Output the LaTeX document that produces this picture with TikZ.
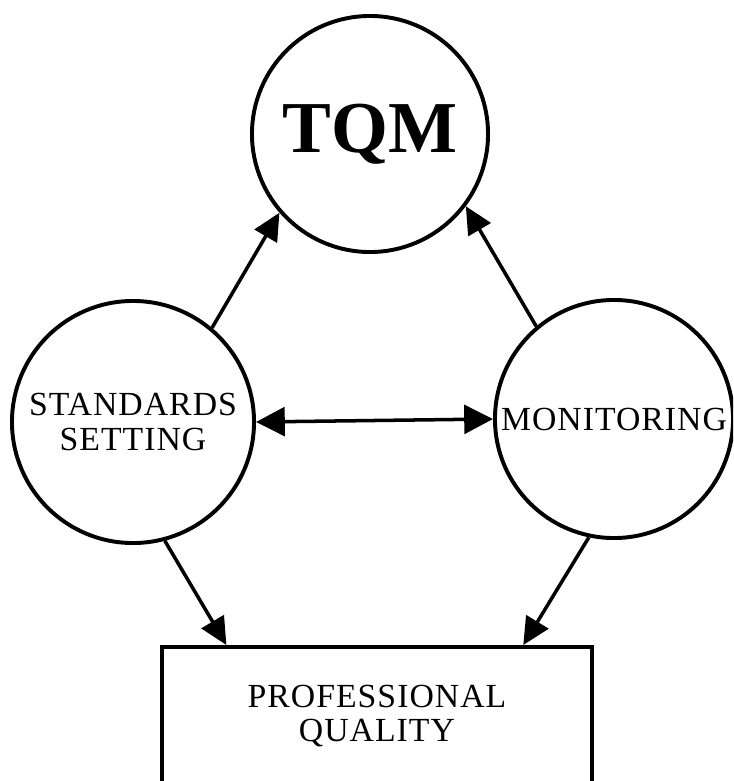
\documentclass[tikz,border=0pt]{standalone}
\usepackage{fontspec}
\setmainfont{Liberation Serif}
\newfontfamily\labelfont[LetterSpace=3]{Liberation Serif}
\usetikzlibrary{arrows.meta, calc}
\tikzset{
  every picture/.style={line width=2.8pt},
  blob/.style={draw, circle, inner sep=0pt, minimum size=#1, align=center,
    font=\labelfont\fontsize{24}{25}\selectfont},
  blob/.default=6cm,
  outbox/.style={draw, rectangle, align=center, minimum width=10.75cm, minimum height=3.45cm,
    font=\labelfont\fontsize{24}{24.2}\selectfont},
  arrow/.style={-{Triangle[length=0.68cm, width=0.64cm]}, line width=2.5pt},
  twoway/.style={{Triangle[length=0.72cm, width=0.72cm]}-{Triangle[length=0.72cm, width=0.72cm]}, line width=2.5pt},
}

\begin{document}
\begin{tikzpicture}[x=0.025cm, y=-0.025cm]
  \clip (0,0) rectangle (733,781);
  % top: the goal
  \node[blob=5.9cm, font=\bfseries\fontsize{52}{56}\selectfont] (tqm) at (370,134) {TQM};
  % the two activities
  \node[blob=6.05cm] (std) at (133,422) {STANDARDS\\SETTING};
  \node[blob=5.95cm] (mon) at (614,419) {MONITORING};
  % bottom: the outcome
  \node[outbox] (pq) at (377,716) {PROFESSIONAL\\QUALITY};
  % links
  \draw[arrow] (std.50) -- (tqm.221);
  \draw[arrow] (mon.130) -- (tqm.323);
  \draw[twoway] (std.0) -- (mon.180);
  \draw[arrow] (std.285) -- ($(pq.north west)!0.153!(pq.north east)$);
  \draw[arrow] (mon.258) -- ($(pq.north west)!0.837!(pq.north east)$);
\end{tikzpicture}
\end{document}
